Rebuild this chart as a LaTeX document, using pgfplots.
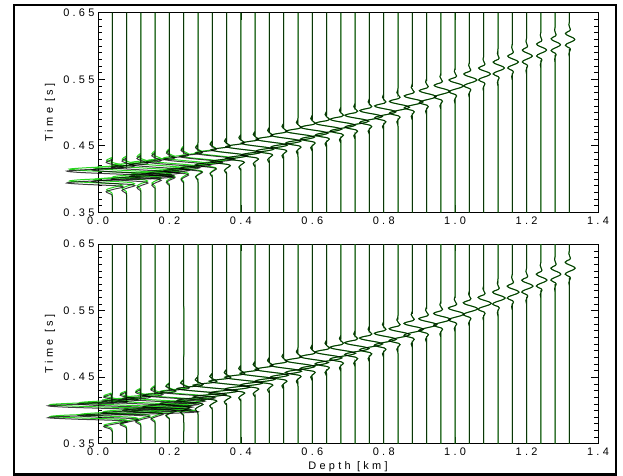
\documentclass[border=0pt]{standalone}
\usepackage{pgfplots}
\usepackage{pgfplotstable}
\pgfplotsset{compat=1.18}
\usepackage{fontspec}
\setmainfont{Liberation Sans}
\newfontfamily\lsf[LetterSpace=30]{Liberation Sans}
\definecolor{tgreen}{RGB}{40,215,30}

% normalised wavelet shape (tau in s, r relative amplitude)
\pgfplotstableread{
tau r
-0.5 0
-0.030 0
-0.026 -0.02
-0.022 -0.10
-0.018 0.04
-0.015 0.18
-0.013 0.05
-0.011 -0.45
-0.009 -0.75
-0.007 -0.55
-0.005 -0.05
-0.0025 0.65
0 1
0.0025 0.65
0.005 -0.05
0.007 -0.55
0.009 -0.75
0.011 -0.45
0.013 0.05
0.015 0.18
0.018 0.04
0.022 -0.10
0.026 -0.02
0.030 0
0.5 0
}\wavelet

% top panel: depth, arrival (black), amplitude (black), arrival (green), amplitude (green)
\pgfplotstableread{
d tb ab tg ag
0.04 0.403 0.170 0.406 0.160
0.08 0.405 0.130 0.408 0.123
0.12 0.409 0.110 0.412 0.105
0.16 0.413 0.095 0.416 0.091
0.20 0.417 0.085 0.419 0.082
0.24 0.421 0.075 0.423 0.073
0.28 0.425 0.068 0.426 0.067
0.32 0.430 0.063 0.431 0.062
0.36 0.435 0.058 0.435 0.058
0.40 0.440 0.055 0.440 0.055
0.44 0.445 0.052 0.445 0.052
0.48 0.451 0.050 0.451 0.050
0.52 0.457 0.048 0.457 0.048
0.56 0.463 0.046 0.463 0.046
0.60 0.469 0.044 0.469 0.044
0.64 0.475 0.042 0.475 0.042
0.68 0.481 0.040 0.481 0.040
0.72 0.487 0.038 0.487 0.038
0.76 0.494 0.036 0.494 0.036
0.80 0.501 0.034 0.501 0.034
0.84 0.508 0.032 0.508 0.032
0.88 0.516 0.030 0.516 0.030
0.92 0.524 0.027 0.524 0.027
0.96 0.532 0.025 0.532 0.025
1.00 0.540 0.023 0.540 0.023
1.04 0.549 0.021 0.549 0.021
1.08 0.558 0.019 0.558 0.019
1.12 0.567 0.018 0.567 0.018
1.16 0.576 0.017 0.576 0.017
1.20 0.585 0.016 0.585 0.016
1.24 0.594 0.016 0.594 0.016
1.28 0.602 0.015 0.602 0.015
1.32 0.610 0.015 0.610 0.015
}\topdata

\pgfplotstableread{
d tb ab tg ag
0.04 0.398 0.240 0.400 0.230
0.08 0.401 0.180 0.403 0.173
0.12 0.405 0.145 0.407 0.140
0.16 0.409 0.120 0.411 0.116
0.20 0.414 0.100 0.415 0.097
0.24 0.419 0.088 0.420 0.086
0.28 0.424 0.078 0.424 0.077
0.32 0.429 0.071 0.429 0.071
0.36 0.435 0.065 0.435 0.065
0.40 0.441 0.060 0.441 0.060
0.44 0.447 0.056 0.447 0.056
0.48 0.453 0.053 0.453 0.053
0.52 0.459 0.050 0.459 0.050
0.56 0.466 0.047 0.466 0.047
0.60 0.472 0.045 0.472 0.045
0.64 0.479 0.043 0.479 0.043
0.68 0.486 0.041 0.486 0.041
0.72 0.493 0.039 0.493 0.039
0.76 0.500 0.037 0.500 0.037
0.80 0.507 0.035 0.507 0.035
0.84 0.514 0.033 0.514 0.033
0.88 0.522 0.031 0.522 0.031
0.92 0.529 0.029 0.529 0.029
0.96 0.537 0.027 0.537 0.027
1.00 0.545 0.025 0.545 0.025
1.04 0.553 0.023 0.553 0.023
1.08 0.561 0.021 0.561 0.021
1.12 0.569 0.020 0.569 0.020
1.16 0.578 0.019 0.578 0.019
1.20 0.587 0.018 0.587 0.018
1.24 0.596 0.017 0.596 0.017
1.28 0.605 0.016 0.605 0.016
1.32 0.614 0.016 0.614 0.016
}\botdata

\pgfplotsset{
  gtrace/.style={color=tgreen, line width=1bp, smooth, no markers},
  btrace/.style={color=black, line width=1bp, draw opacity=0.75, smooth, no markers},
  panel/.style={
    width=500bp, height=199.5bp, scale only axis,
    xmin=0, xmax=1.4, ymin=0.35, ymax=0.65,
    clip=false,
    axis line style={line width=0.8bp},
    xtick={0,0.2,0.4,0.6,0.8,1.0,1.2,1.4},
    xticklabels={0.0,0.2,0.4,0.6,0.8,1.0,1.2,1.4},
    ytick={0.35,0.45,0.55,0.65},
    yticklabels={0.35,0.45,0.55,0.65},
    minor y tick num=9,
    tick align=inside,
    major tick length=7bp, minor tick length=4bp,
    tick style={line width=0.6bp, black},
    ticklabel style={font=\lsf\fontsize{11}{12}\selectfont},
    xticklabel style={yshift=-1bp},
    ylabel={Time [s]},
    ylabel style={at={(axis description cs:-0.096,0.5)}, anchor=center, font=\lsf\fontsize{11}{12}\selectfont},
  }
}

\newcommand\drawtraces[4]{% #1 table, #2 time col, #3 amp col, #4 style
  \foreach \i in {0,...,32}{%
    \pgfplotstablegetelem{\i}{d}\of{#1}\let\trD\pgfplotsretval
    \pgfplotstablegetelem{\i}{#2}\of{#1}\let\trT\pgfplotsretval
    \pgfplotstablegetelem{\i}{#3}\of{#1}\let\trA\pgfplotsretval
    \edef\doplot{\noexpand\addplot[#4] table[x expr={\noexpand\thisrow{r}*\trA+\trD}, y expr={max(0.35,min(0.65,\noexpand\thisrow{tau}+\trT))}]{\noexpand\wavelet};}%
    \doplot
  }%
}

\begin{document}
\begin{tikzpicture}
\useasboundingbox (0bp,0bp) rectangle (623bp,476bp);
\draw[line width=2bp] (13.7bp,1.5bp) rectangle (616bp,470.7bp);

\begin{axis}[panel, at={(98bp,263.7bp)}, anchor=south west]
  \drawtraces{\topdata}{tg}{ag}{gtrace}
  \drawtraces{\topdata}{tb}{ab}{btrace}
\end{axis}

\begin{axis}[panel, at={(98bp,32.3bp)}, anchor=south west,
  xlabel={Depth [km]},
  xlabel style={at={(axis description cs:0.5,-0.117)}, anchor=center, font=\lsf\fontsize{11}{12}\selectfont}]
  \drawtraces{\botdata}{tg}{ag}{gtrace}
  \drawtraces{\botdata}{tb}{ab}{btrace}
\end{axis}
\end{tikzpicture}
\end{document}
